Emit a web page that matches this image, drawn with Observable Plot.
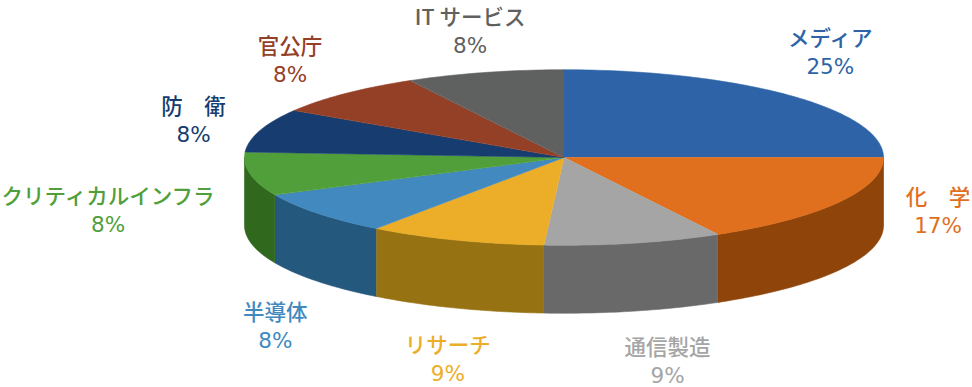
<!DOCTYPE html>
<html><head><meta charset="utf-8">
<script src="https://cdn.jsdelivr.net/npm/d3@7"></script>
<script src="https://cdn.jsdelivr.net/npm/@observablehq/plot@0.6"></script>
<style>body{margin:0;background:#fff}</style>
</head><body><div id="chart"></div>
<script>
// ---- data ----
const categories = ["メディア","化　学","通信製造","リサーチ","半導体","クリティカルインフラ","防　衛","官公庁","IT サービス"];
const values = [25,17,9,9,8,8,8,8,8];
const percentLabels = ["25%","17%","9%","9%","8%","8%","8%","8%","8%"];
const topColors  = ["#2e64a7","#e0701e","#a5a5a5","#ecae28","#4189bf","#519f3a","#163c70","#944026","#5f6160"];
const sideColors = ["#1f4577","#8f440a","#696969","#967212","#24587c","#30691e","#0f2a50","#6a2d1b","#434545"];
const textColors = ["#2e64a7","#e0701e","#a5a5a5","#ecae28","#4189bf","#519f3a","#163c70","#944026","#5f6160"];

// ---- layout ----
const W = 972, H = 387;
const cx = 563.5, cy = 157, rx = 319.5, ry = 87.75, depthPx = 68;
const depth = depthPx / ry;
const labelNudge = [[5,-7],[56,-50],[23,36],[9,39],[-4,48],[-93,-6],[-19,6],[-21,4],[-2,8]];

const deg = Math.PI / 180;
const arcs = d3.pie().sort(null).value(d => d)(values);
const tops = [], walls = [], labels = [];
arcs.forEach((a, i) => {
  const s = a.startAngle, e = a.endAngle;
  const n = Math.max(2, Math.ceil((e - s) / deg));
  tops.push({x: 0, y: 0, key: "t" + i, color: topColors[i]});
  for (let k = 0; k <= n; k++) {
    const t = s + (e - s) * k / n;
    tops.push({x: Math.sin(t), y: -Math.cos(t), key: "t" + i, color: topColors[i]});
  }
  const w0 = Math.max(s, Math.PI / 2), w1 = Math.min(e, 3 * Math.PI / 2);
  if (w1 > w0) {
    const m = Math.max(2, Math.ceil((w1 - w0) / deg));
    for (let k = 0; k <= m; k++) {
      const t = w0 + (w1 - w0) * k / m;
      walls.push({x: Math.sin(t), y: -Math.cos(t), key: "w" + i, color: sideColors[i]});
    }
    for (let k = m; k >= 0; k--) {
      const t = w0 + (w1 - w0) * k / m;
      walls.push({x: Math.sin(t), y: -Math.cos(t) + depth, key: "w" + i, color: sideColors[i]});
    }
  }
  const mid = (s + e) / 2;
  const lower = Math.cos(mid) < 0;
  labels.push({
    x: Math.sin(mid) * (rx + 50) / rx + labelNudge[i][0] / rx,
    y: -Math.cos(mid) * (ry + 50) / ry + (lower ? 34 / ry : 0) + labelNudge[i][1] / ry,
    name: categories[i], pct: percentLabels[i], color: textColors[i]
  });
});

const chart = Plot.plot({
  width: W, height: H, margin: 0,
  style: {background: "#fff", overflow: "visible"},
  x: {domain: [-1, 1], range: [cx - rx, cx + rx], axis: null},
  y: {domain: [-1, 1], range: [cy - ry, cy + ry], axis: null},
  color: {type: "identity"},
  marks: [
    Plot.line(walls, {x: "x", y: "y", z: "key", fill: "color", stroke: "color", strokeWidth: 0.6}),
    Plot.line(tops, {x: "x", y: "y", z: "key", fill: "color", stroke: "color", strokeWidth: 0.6}),
    Plot.text(labels, {x: "x", y: "y", text: "name", fill: "color", dy: -14, fontSize: 21.5, fontWeight: 500, fontFamily: "Noto Sans CJK JP"}),
    Plot.text(labels, {x: "x", y: "y", text: "pct", fill: "color", dy: 14, fontSize: 21.5, fontFamily: "DejaVu Sans"})
  ]
});
document.getElementById("chart").appendChild(chart);
</script>
</body></html>
